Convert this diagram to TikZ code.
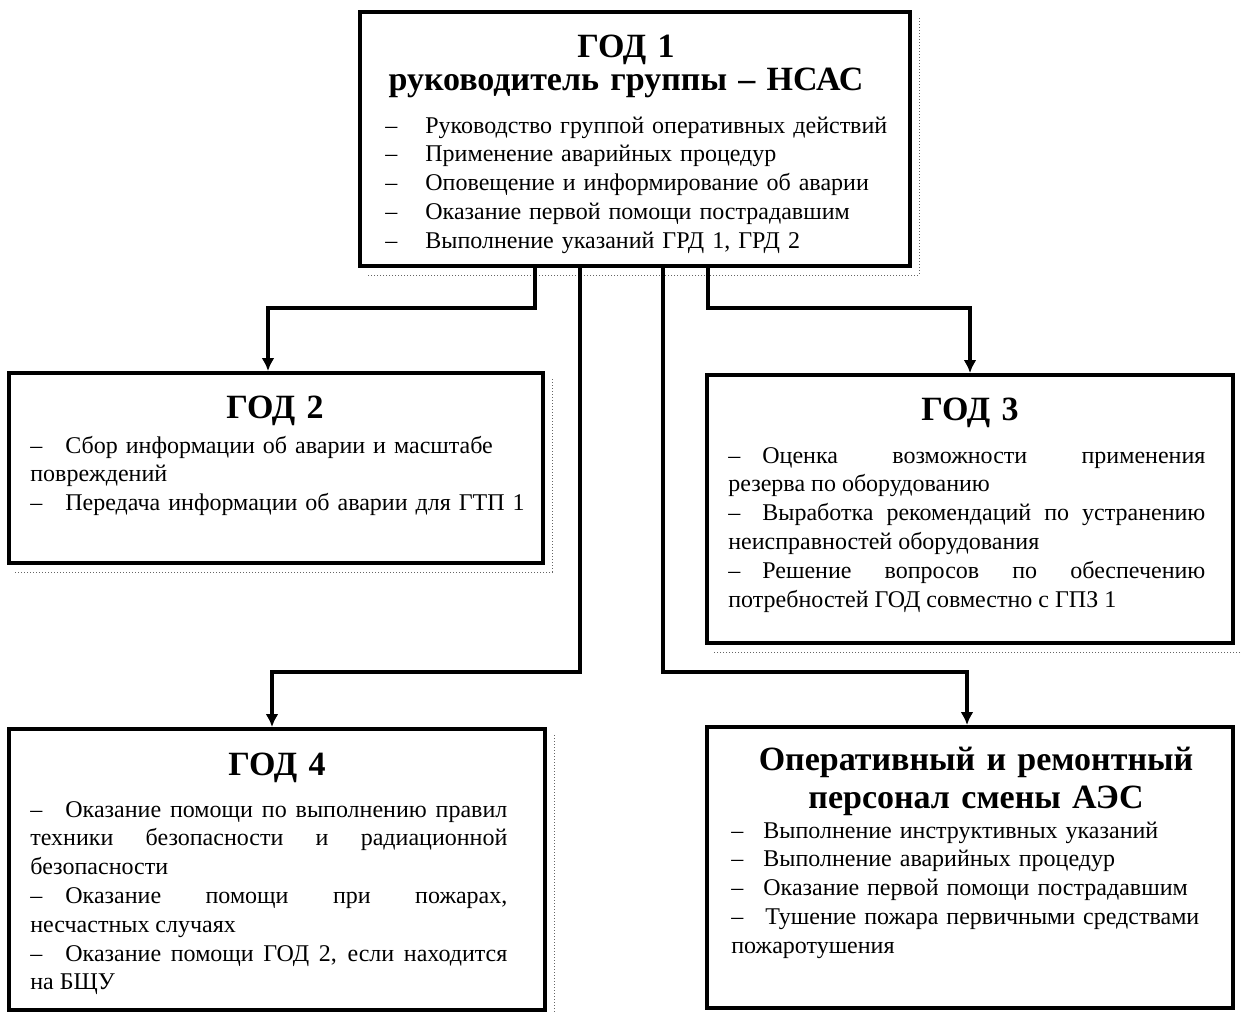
\documentclass[tikz,border=0pt]{standalone}
\usepackage{fontspec}
\setmainfont{Liberation Serif}
\usetikzlibrary{arrows.meta,calc,fit}
\setlength{\parindent}{0pt}
\tolerance=10000
\hyphenpenalty=10000
% dash in front of a list item, fixed gap after it
\newcommand{\dsh}[1][17.5pt]{\makebox[#1][l]{–}}

\begin{document}
\begin{tikzpicture}[x=0.5pt, y=-0.5pt, >={Latex[length=6.5pt,width=6.5pt]},
  box/.style={draw, line width=2pt, inner sep=0pt},
  shadowline/.style={line width=0.5pt, densely dotted, black!60},
  conn/.style={->, line width=2pt, line join=miter},
  ttl/.style={font=\fontsize{17}{16.5}\selectfont\bfseries, align=center,
              text width=260pt, inner sep=0pt, anchor=base},
  body/.style={font=\fontsize{12}{14.4}\selectfont, inner sep=0pt, anchor=base west}]
\useasboundingbox (0,0) rectangle (1242,1012);

% --- boxes ---
\node[box, fit={(360,12) (910,266)}]  (g1) {};
\node[box, fit={(9,373) (543,563)}]   (g2) {};
\node[box, fit={(707,375) (1233,643)}] (g3) {};
\node[box, fit={(9,729) (545,1010)}]  (g4) {};
\node[box, fit={(707,727) (1233,1008)}] (g5) {};
\foreach \b in {g1,g2,g3,g4,g5}{
  \draw[shadowline] ($(\b.north east)+(7,8)$) |- ($(\b.south west)+(8,7)$);
}

% --- titles ---
\node[ttl] (t1) at (626,57) {ГОД 1\\руководитель группы – НСАС};
\node[ttl] (t2) at (275,418) {ГОД 2};
\node[ttl] (t3) at (970,420) {ГОД 3};
\node[ttl] (t4) at (277,775) {ГОД 4};
\node[ttl, font=\fontsize{17}{19}\selectfont\bfseries] (t5) at (976,770)
  {Оперативный и ремонтный\\персонал смены АЭС};

% --- lists ---
\node[body, align=left, text width=262pt] (b1) at (385,133) {%
  \dsh[20pt]Руководство группой оперативных действий\\
  \dsh[20pt]Применение аварийных процедур\\
  \dsh[20pt]Оповещение и информирование об аварии\\
  \dsh[20pt]Оказание первой помощи пострадавшим\\
  \dsh[20pt]Выполнение указаний ГРД 1, ГРД 2};
\node[body, align=left, text width=250pt] (b2) at (30,453) {%
  \dsh Сбор информации об аварии и масштабе\\
  повреждений\\
  \dsh Передача информации об аварии для ГТП 1};
\node[body, align=justify, text width=238.5pt] (b3) at (728,463) {%
  \dsh[17pt]Оценка возможности применения\linebreak
  резерва по оборудованию\\
  \dsh[17pt]Выработка рекомендаций по устранению\linebreak
  неисправностей оборудования\\
  \dsh[17pt]Решение вопросов по обеспечению\linebreak
  потребностей ГОД совместно с ГПЗ 1};
\node[body, align=justify, text width=238.5pt] (b4) at (30,817) {%
  \dsh Оказание помощи по выполнению правил\linebreak
  техники безопасности и радиационной\linebreak
  безопасности\\
  \dsh Оказание помощи при пожарах,\linebreak
  несчастных случаях\\
  \dsh Оказание помощи ГОД 2, если находится\linebreak
  на БЩУ};
\node[body, align=left, text width=245pt] (b5) at (731,838) {%
  \dsh[16pt]Выполнение инструктивных указаний\\
  \dsh[16pt]Выполнение аварийных процедур\\
  \dsh[16pt]Оказание первой помощи пострадавшим\\
  \dsh[17pt]Тушение пожара первичными средствами\\
  пожаротушения};

% --- connectors ---
\coordinate (s2) at (535,0);  \coordinate (e2) at (268,308);
\coordinate (s4) at (580,0);  \coordinate (e4) at (272,672);
\coordinate (s5) at (663,0);  \coordinate (e5) at (967,672);
\coordinate (s3) at (708,0);  \coordinate (e3) at (970,308);
\draw[conn] (g1.south -| s2) |- (e2) -- (e2 |- g2.north);
\draw[conn] (g1.south -| s4) |- (e4) -- (e4 |- g4.north);
\draw[conn] (g1.south -| s5) |- (e5) -- (e5 |- g5.north);
\draw[conn] (g1.south -| s3) |- (e3) -- (e3 |- g3.north);
\end{tikzpicture}
\end{document}
